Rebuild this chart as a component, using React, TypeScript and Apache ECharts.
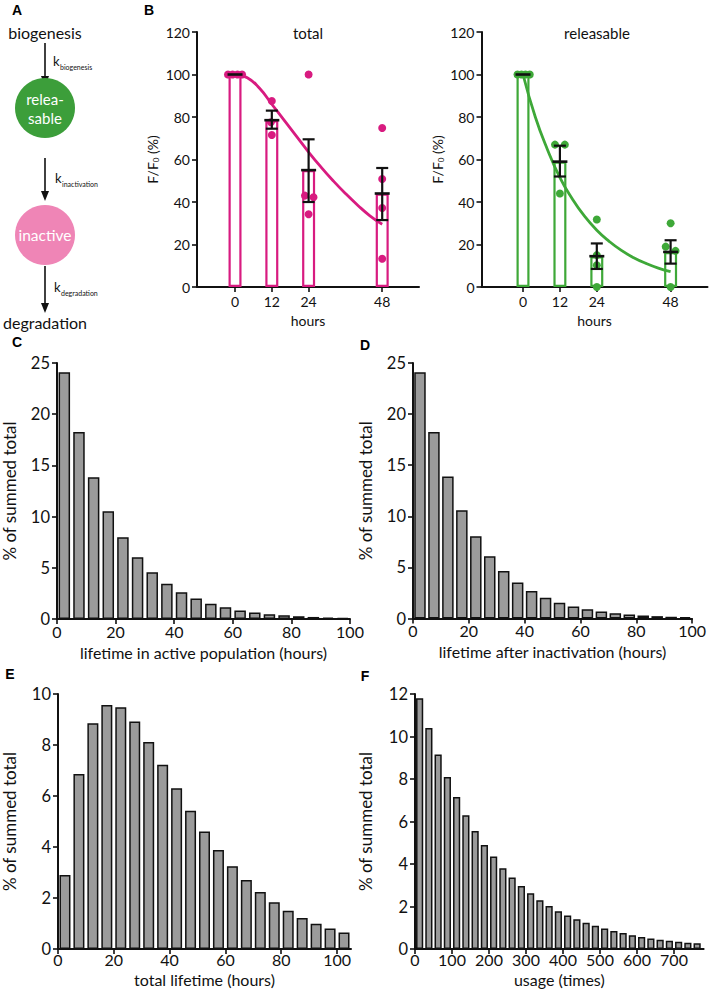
import React, { useEffect, useRef } from 'react';
import * as echarts from 'echarts';

const PINK = '#d81b80';
const GREEN = '#3ea838';
const BAR_GRAY = '#9b9b9b';
const AX = '#111';
const FONT = 'Lato, "Open Sans", sans-serif';

// ---- Panel B data ----
const hourTicks = [0, 12, 24, 48];
const totalMean = [100, 78.5, 55, 44];
const totalLow = [100, 74.5, 40, 31.5];
const totalHigh = [100, 83, 69.5, 56];
const totalPoints = [
  [-2.3, 100], [-0.8, 100], [0.8, 100], [2.3, 100],
  [12, 87.5], [11.7, 77.5], [12, 71.5],
  [24, 100], [22.8, 43], [25.6, 42.2], [24, 34.2],
  [48, 74.8], [48, 50.8], [48, 37.2], [48, 13.3],
];
const releasableMean = [100, 59, 14.5, 16.5];
const releasableLow = [100, 52, 8.5, 11];
const releasableHigh = [100, 66.5, 20.5, 22];
const releasablePoints = [
  [-1.8, 100], [-0.5, 100], [0.8, 100], [2.2, 100],
  [10.4, 67], [13.6, 67], [12, 44],
  [24, 31.8], [24, 15], [24, 10.2], [24, 0],
  [48, 30], [46.4, 19], [49.6, 17], [48, 0],
];
const fitHours = [0, 4, 8, 12, 16, 20, 24, 28, 32, 36, 40, 44, 48];
const totalFit = [100, 98.5, 93.5, 86, 78.5, 71, 63.5, 56.5, 50, 44, 38.5, 33.5, 29.5];
const releasableFit = [100, 80, 64.5, 51.5, 41.5, 33.3, 26.7, 21.5, 17.2, 13.8, 11.1, 8.9, 7.2];

// ---- Histograms ----
const cdBins = [2.5, 7.5, 12.5, 17.5, 22.5, 27.5, 32.5, 37.5, 42.5, 47.5, 52.5, 57.5, 62.5, 67.5, 72.5, 77.5, 82.5, 87.5, 92.5, 97.5];
const cValues = [24.1, 18.25, 13.85, 10.53, 7.99, 6.03, 4.56, 3.45, 2.61, 1.99, 1.5, 1.14, 0.84, 0.64, 0.47, 0.36, 0.27, 0.2, 0.14, 0.09];
const dValues = [24.1, 18.25, 13.9, 10.6, 8.05, 6.08, 4.65, 3.52, 2.68, 2.04, 1.55, 1.18, 0.9, 0.68, 0.52, 0.4, 0.3, 0.23, 0.17, 0.13];
const eBins = [2.5, 7.5, 12.5, 17.5, 22.5, 27.5, 32.5, 37.5, 42.5, 47.5, 52.5, 57.5, 62.5, 67.5, 72.5, 77.5, 82.5, 87.5, 92.5, 97.5, 102.5];
const eValues = [2.9, 6.86, 8.85, 9.57, 9.48, 8.92, 8.12, 7.23, 6.3, 5.42, 4.61, 3.88, 3.25, 2.71, 2.24, 1.83, 1.5, 1.22, 0.99, 0.8, 0.65];
const fBins = [12.5, 37.5, 62.5, 87.5, 112.5, 137.5, 162.5, 187.5, 212.5, 237.5, 262.5, 287.5, 312.5, 337.5, 362.5, 387.5, 412.5, 437.5, 462.5, 487.5, 512.5, 537.5, 562.5, 587.5, 612.5, 637.5, 662.5, 687.5, 712.5, 737.5, 762.5];
const fValues = [11.8, 10.4, 9.15, 8.1, 7.15, 6.3, 5.55, 4.9, 4.35, 3.8, 3.36, 2.96, 2.62, 2.3, 2.02, 1.78, 1.58, 1.4, 1.24, 1.1, 0.96, 0.85, 0.75, 0.65, 0.57, 0.5, 0.44, 0.39, 0.34, 0.3, 0.27];

const cdTicks = [0, 20, 40, 60, 80, 100];
const fTicks = [0, 100, 200, 300, 400, 500, 600, 700];

function zip(xs: number[], ys: number[]) {
  return xs.map((x, i) => [x, ys[i]]);
}

function errRender(meanW: number, capW: number) {
  return (params: any, api: any) => {
    const x = api.value(0), m = api.value(1), lo = api.value(2), hi = api.value(3);
    const pm = api.coord([x, m]);
    const pl = api.coord([x, lo]);
    const ph = api.coord([x, hi]);
    const st = { stroke: AX, lineWidth: 2.2 };
    const children: any[] = [
      { type: 'line', shape: { x1: pm[0] - meanW / 2, y1: pm[1], x2: pm[0] + meanW / 2, y2: pm[1] }, style: { stroke: AX, lineWidth: 2.6 } },
    ];
    if (hi > lo) {
      children.push({ type: 'line', shape: { x1: pl[0], y1: pl[1], x2: ph[0], y2: ph[1] }, style: st });
      children.push({ type: 'line', shape: { x1: pl[0] - capW / 2, y1: pl[1], x2: pl[0] + capW / 2, y2: pl[1] }, style: st });
      children.push({ type: 'line', shape: { x1: ph[0] - capW / 2, y1: ph[1], x2: ph[0] + capW / 2, y2: ph[1] }, style: st });
    }
    return { type: 'group', children };
  };
}

function bGrid(color: string, mean: number[], low: number[], high: number[], pts: number[][], fit: number[], idx: number) {
  return [
    {
      type: 'bar', xAxisIndex: idx, yAxisIndex: idx, barWidth: 13, z: 2,
      data: zip(hourTicks, mean),
      itemStyle: { color: '#fff', borderColor: color, borderWidth: 2.2 },
    },
    {
      type: 'line', xAxisIndex: idx, yAxisIndex: idx, smooth: true, showSymbol: false, z: 3,
      data: zip(fitHours, fit),
      lineStyle: { color, width: 2.8 },
    },
    {
      type: 'scatter', xAxisIndex: idx, yAxisIndex: idx, symbolSize: 8, z: 4,
      data: pts, itemStyle: { color, opacity: 1 },
    },
    {
      type: 'custom', xAxisIndex: idx, yAxisIndex: idx, z: 5,
      renderItem: errRender(15, 12),
      encode: { x: 0, y: 1 },
      data: hourTicks.map((h, i) => [h, mean[i], low[i], high[i]]),
    },
  ];
}

function histSeries(bins: number[], vals: number[], idx: number, w: number) {
  return {
    type: 'bar', xAxisIndex: idx, yAxisIndex: idx, barWidth: w,
    data: zip(bins, vals),
    itemStyle: { color: BAR_GRAY, borderColor: AX, borderWidth: 1.5 },
  };
}

const axisLine = { show: true, onZero: false, lineStyle: { color: AX, width: 2 } };
const axisTick = { show: true, length: 5, lineStyle: { color: AX, width: 1.6 } };

function xAx(idx: number, min: number, max: number, ticks: number[], name: string, nameGap: number, fs: number, margin: number) {
  return {
    type: 'value', gridIndex: idx, min, max,
    splitLine: { show: false },
    axisLine,
    axisTick: { ...axisTick, customValues: ticks },
    axisLabel: { customValues: ticks, color: AX, fontSize: fs, margin, fontFamily: FONT },
    name, nameLocation: 'middle', nameGap,
    nameTextStyle: { color: AX, fontSize: fs, fontFamily: FONT },
  };
}

function yAx(idx: number, max: number, interval: number, name: any, nameGap: number, fs: number, nameFs: number, rich?: any) {
  return {
    type: 'value', gridIndex: idx, min: 0, max, interval,
    splitLine: { show: false },
    axisLine,
    axisTick,
    axisLabel: { color: AX, fontSize: fs, margin: 7, fontFamily: FONT },
    name, nameLocation: 'middle', nameGap,
    nameTextStyle: { color: AX, fontSize: nameFs, fontFamily: FONT, rich },
  };
}

function letter(t: string, x: number, y: number) {
  return { type: 'text', x, y, style: { text: t, fontSize: 14, fontWeight: 'bold', fontFamily: 'Arial, "Liberation Sans", sans-serif', fill: '#000', align: 'center', verticalAlign: 'middle' } };
}

function txt(t: string, x: number, y: number, fs: number, fill = '#111', align = 'center') {
  return { type: 'text', x, y, style: { text: t, fontSize: fs, fontFamily: FONT, fill, align, verticalAlign: 'middle' } };
}

function arrow(x: number, y1: number, y2: number) {
  return [
    { type: 'line', shape: { x1: x, y1, x2: x, y2: y2 - 8 }, style: { stroke: '#111', lineWidth: 1.6 } },
    { type: 'polygon', shape: { points: [[x - 4, y2 - 10], [x + 4, y2 - 10], [x, y2]] }, style: { fill: '#111' } },
  ];
}

function kLabel(sub: string, x: number, y: number) {
  return [
    { type: 'text', x, y, style: { text: 'k', fontSize: 13, fontFamily: FONT, fill: '#111', align: 'left', verticalAlign: 'middle' } },
    { type: 'text', x: x + 7, y: y + 6, style: { text: sub, fontSize: 7, fontFamily: FONT, fill: '#111', align: 'left', verticalAlign: 'middle' } },
  ];
}

export default function App() {
  const ref = useRef<HTMLDivElement>(null);
  useEffect(() => {
    if (!ref.current) return;
    const chart = echarts.init(ref.current, null, { renderer: 'svg' });
    const ffRich = { s: { fontSize: 8, fontFamily: FONT, color: AX, padding: [7, 0, 0, 0] } };
    chart.setOption({
      animation: false,
      textStyle: { fontFamily: FONT },
      grid: [
        { left: 197, top: 32, width: 222, height: 255 },
        { left: 481.5, top: 32, width: 226, height: 255 },
        { left: 56, top: 363, width: 294, height: 256 },
        { left: 413, top: 363, width: 294, height: 255.5 },
        { left: 57, top: 694, width: 294, height: 255 },
        { left: 415, top: 694, width: 288.6, height: 255 },
      ],
      xAxis: [
        xAx(0, -12.4, 60, hourTicks, 'hours', 26, 14, 7),
        xAx(1, -13.5, 60, hourTicks, 'hours', 26, 14, 7),
        xAx(2, 0, 100, cdTicks, 'lifetime in active population (hours)', 25, 16, 4),
        xAx(3, 0, 100, cdTicks, 'lifetime after inactivation (hours)', 25, 16, 4),
        xAx(4, 0, 105, cdTicks, 'total lifetime (hours)', 22, 16, 2),
        xAx(5, 0, 780, fTicks, 'usage (times)', 22, 16, 2),
      ],
      yAxis: [
        yAx(0, 120, 20, 'F/F{s|0} (%)', 37, 14, 14, ffRich),
        yAx(1, 120, 20, 'F/F{s|0} (%)', 37, 14, 14, ffRich),
        yAx(2, 25, 5, '% of summed total', 39, 16.5, 17),
        yAx(3, 25, 5, '% of summed total', 39, 16.5, 17),
        yAx(4, 10, 2, '% of summed total', 40, 16.5, 17),
        yAx(5, 12, 2, '% of summed total', 41, 16.5, 17),
      ],
      series: [
        ...bGrid(PINK, totalMean, totalLow, totalHigh, totalPoints, totalFit, 0),
        ...bGrid(GREEN, releasableMean, releasableLow, releasableHigh, releasablePoints, releasableFit, 1),
        histSeries(cdBins, cValues, 2, 11.5),
        histSeries(cdBins, dValues, 3, 11.5),
        histSeries(eBins, eValues, 4, 11),
        histSeries(fBins, fValues, 5, 7.2),
      ],
      graphic: [
        letter('A', 17, 10), letter('B', 149, 10), letter('C', 17, 342),
        letter('D', 365, 345), letter('E', 10, 674), letter('F', 365, 676),
        txt('total', 308, 33, 15), txt('releasable', 597, 33, 15),
        txt('biogenesis', 45, 32, 16),
        ...arrow(45, 43, 86),
        ...kLabel('biogenesis', 53, 61),
        { type: 'circle', shape: { cx: 45, cy: 108, r: 30 }, style: { fill: '#3c9e3a' } },
        txt('relea-', 45, 99, 15, '#fff'),
        txt('sable', 45, 118, 15, '#fff'),
        ...arrow(45, 158, 201),
        ...kLabel('inactivation', 55, 178),
        { type: 'circle', shape: { cx: 45, cy: 235, r: 30 }, style: { fill: '#ef85b6' } },
        txt('inactive', 45, 235, 15.5, '#fff'),
        ...arrow(45, 266, 313),
        ...kLabel('degradation', 54, 287),
        txt('degradation', 45, 322, 16),
      ],
    });
    return () => chart.dispose();
  }, []);
  return <div ref={ref} style={{ position: 'absolute', left: 0, top: 0, width: 709, height: 990, background: '#fff' }} />;
}
